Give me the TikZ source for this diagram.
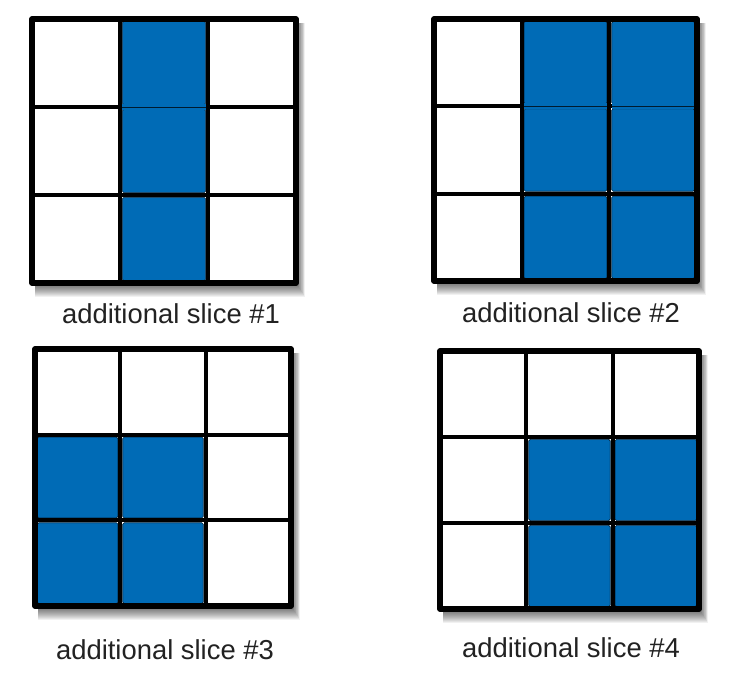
\documentclass[tikz,border=0pt]{standalone}
\usepackage{fontspec}
\setmainfont{Liberation Sans}
\definecolor{sliceblue}{RGB}{0,107,182}
\definecolor{labelgray}{RGB}{34,34,34}
\tikzset{
  cellline/.style={draw=black, line width=3.8pt},
  thinline/.style={draw=black!75!sliceblue, line width=1pt},
  outerline/.style={draw=black, line width=5.4pt, line join=round},
  bluecell/.style={fill=sliceblue, draw=black!70!sliceblue, line width=0.6pt, rounded corners=1.5pt},
  slicelabel/.style={font=\fontsize{27.4}{30}\selectfont, text=labelgray, anchor=base, inner sep=0pt},
}
% #1 left, #2 top, #3 right, #4 bottom, #5 list of col/row blue cells (0-based),
% #6 list of columns where the first row boundary is a thin line
\newcommand\slicegrid[6]{%
  \foreach \k in {1,...,14}{
    \fill[black, opacity=0.055] ({#1+3},{#2+4}) rectangle ({#3+0.65*\k},{#4+1.0*\k});
  }
  \fill[white] (#1,#2) rectangle (#3,#4);
  \pgfmathsetmacro\cw{(#3-#1)/3}
  \pgfmathsetmacro\ch{(#4-#2)/3}
  \foreach \c/\r in {#5}{
    \fill[bluecell] ({#1+\c*\cw+2.4},{#2+\r*\ch+2.4}) rectangle ({#1+(\c+1)*\cw-2.4},{#2+(\r+1)*\ch-2.4});
  }
  \foreach \i in {1,2}{
    \draw[cellline] ({#1+\i*\cw},#2) -- ({#1+\i*\cw},#4);
    \draw[cellline] (#1,{#2+\i*\ch}) -- (#3,{#2+\i*\ch});
  }
  \foreach \c in {#6}{
    \fill[sliceblue] ({#1+\c*\cw+2.4},{#2+\ch-3}) rectangle ({#1+(\c+1)*\cw-2.4},{#2+\ch+3});
    \draw[thinline] ({#1+\c*\cw+2.4},{#2+\ch}) -- ({#1+(\c+1)*\cw-2.4},{#2+\ch});
  }
  \draw[outerline] (#1,#2) rectangle (#3,#4);
}
\begin{document}
\begin{tikzpicture}[x=1pt,y=-1pt]
\useasboundingbox (0,0) rectangle (739,673);
\fill[white] (0,0) rectangle (739,673);
\slicegrid{32}{19}{296}{283}{1/0,1/1,1/2}{1}
\slicegrid{434}{19}{697}{281}{1/0,2/0,1/1,2/1,1/2,2/2}{1,2}
\slicegrid{35}{349}{291}{606}{0/1,1/1,0/2,1/2}{}
\slicegrid{440}{351}{699}{609}{1/1,2/1,1/2,2/2}{}
\node[slicelabel] (l1) at (171,323) {additional slice \#1};
\node[slicelabel] (l2) at (571,322) {additional slice \#2};
\node[slicelabel] (l3) at (165,659) {additional slice \#3};
\node[slicelabel] (l4) at (571,657) {additional slice \#4};
\end{tikzpicture}
\end{document}
